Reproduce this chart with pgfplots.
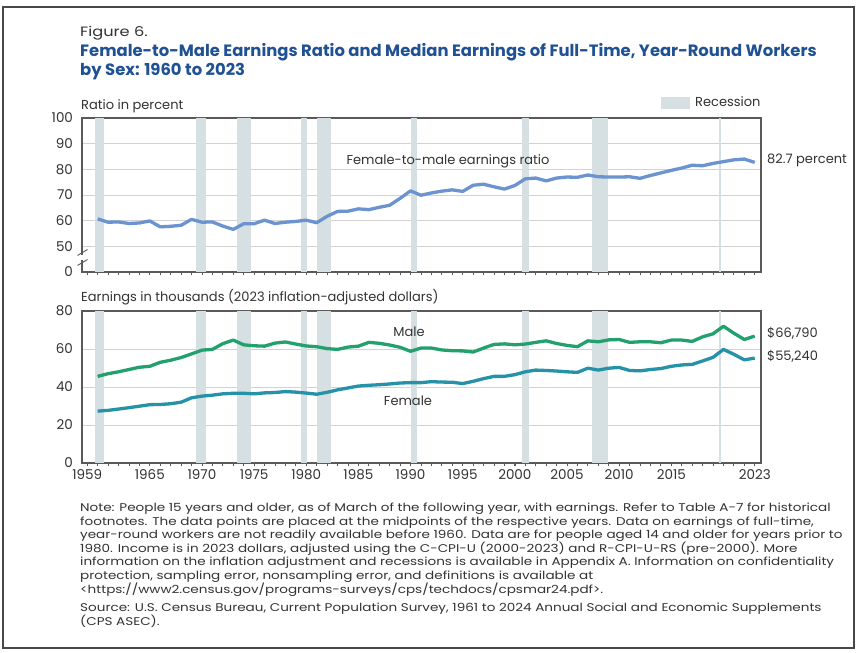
\documentclass[border=0pt]{standalone}
\usepackage{fontspec}
\setmainfont{Poppins}
\newfontfamily\axfont{Poppins}
\newfontfamily\notefont{Poppins}[FakeStretch=1.21]
\newfontfamily\figfont{Poppins}[FakeStretch=1.2]
\usepackage{pgfplots}
\pgfplotsset{compat=1.18}
\definecolor{ratioblue}{HTML}{6A93CF}
\definecolor{malegreen}{HTML}{22A06E}
\definecolor{femteal}{HTML}{2592A8}
\definecolor{recess}{HTML}{D6E0E2}
\definecolor{titleblue}{HTML}{1F5193}
\definecolor{txtgray}{HTML}{333333}
\definecolor{gridgray}{HTML}{D2D2D2}
\definecolor{axgray}{HTML}{5A5A5A}

\pgfplotstableread{
year ratio
1960 60.7
1961 59.4
1962 59.5
1963 58.9
1964 59.1
1965 59.9
1966 57.6
1967 57.8
1968 58.2
1969 60.5
1970 59.4
1971 59.5
1972 57.9
1973 56.6
1974 58.8
1975 58.8
1976 60.2
1977 58.9
1978 59.4
1979 59.7
1980 60.2
1981 59.2
1982 61.7
1983 63.6
1984 63.7
1985 64.6
1986 64.3
1987 65.2
1988 66.0
1989 68.7
1990 71.6
1991 69.9
1992 70.8
1993 71.5
1994 72.0
1995 71.4
1996 73.8
1997 74.2
1998 73.2
1999 72.3
2000 73.7
2001 76.3
2002 76.6
2003 75.5
2004 76.6
2005 77.0
2006 76.9
2007 77.8
2008 77.1
2009 77.0
2010 77.0
2011 77.1
2012 76.5
2013 77.6
2014 78.6
2015 79.6
2016 80.5
2017 81.6
2018 81.4
2019 82.3
2020 83.0
2021 83.7
2022 84.0
2023 82.7
}\ratiotable

\pgfplotstableread{
year male female
1960 45.6 27.3
1961 47.0 27.7
1962 48.0 28.4
1963 49.2 29.1
1964 50.4 29.9
1965 50.9 30.7
1966 53.0 30.8
1967 54.1 31.2
1968 55.5 32.0
1969 57.4 34.3
1970 59.4 35.2
1971 59.8 35.7
1972 62.8 36.4
1973 64.7 36.7
1974 62.2 36.7
1975 61.7 36.4
1976 61.5 36.9
1977 63.1 37.1
1978 63.7 37.6
1979 62.6 37.3
1980 61.6 36.8
1981 61.2 36.2
1982 60.2 37.2
1983 59.8 38.5
1984 61.0 39.5
1985 61.5 40.5
1986 63.5 40.9
1987 63.0 41.2
1988 62.1 41.6
1989 60.9 42.1
1990 58.8 42.3
1991 60.5 42.3
1992 60.5 42.8
1993 59.5 42.6
1994 59.1 42.5
1995 59.0 41.8
1996 58.4 43.0
1997 60.5 44.4
1998 62.4 45.6
1999 62.7 45.6
2000 62.2 46.5
2001 62.6 48.0
2002 63.5 48.9
2003 64.3 48.7
2004 62.9 48.4
2005 61.9 48.0
2006 61.2 47.7
2007 64.3 49.9
2008 63.8 48.9
2009 64.8 49.9
2010 65.0 50.3
2011 63.5 48.7
2012 63.8 48.5
2013 63.8 49.2
2014 63.3 49.7
2015 64.7 50.9
2016 64.7 51.6
2017 64.0 51.9
2018 66.4 53.7
2019 68.0 55.6
2020 72.0 59.8
2021 68.3 57.2
2022 65.0 54.3
2023 66.8 55.2
}\earntable

\pgfplotsset{
  myaxis/.style={
    scale only axis, width=679pt,
    xmin=1958.5, xmax=2023.6,
    clip=false,
    axis line style={axgray, line width=1.1pt},
    ymajorgrids, grid style={gridgray, line width=0.8pt},
    tick align=outside,
    xtick pos=left, ytick pos=left,
    major tick length=3.5pt, minor tick length=3.5pt,
    xtick style={axgray, line width=0.7pt},
    minor x tick style={axgray, line width=0.7pt},
    ytick style={draw=none},
    ticklabel style={font=\axfont\fontsize{13.5}{15}\selectfont, text=txtgray},
    /pgf/number format/assume math mode=true,
  },
  recband/.style={fill=recess, draw=none, forget plot},
}
\newcommand{\bands}[2]{%
  \addplot[recband] coordinates {(1959.75,#1)(1959.75,#2)(1960.58,#2)(1960.58,#1)};
  \addplot[recband] coordinates {(1969.45,#1)(1969.45,#2)(1970.35,#2)(1970.35,#1)};
  \addplot[recband] coordinates {(1973.33,#1)(1973.33,#2)(1974.67,#2)(1974.67,#1)};
  \addplot[recband] coordinates {(1979.5,#1)(1979.5,#2)(1980.05,#2)(1980.05,#1)};
  \addplot[recband] coordinates {(1981.0,#1)(1981.0,#2)(1982.35,#2)(1982.35,#1)};
  \addplot[recband] coordinates {(1990.0,#1)(1990.0,#2)(1990.65,#2)(1990.65,#1)};
  \addplot[recband] coordinates {(2000.67,#1)(2000.67,#2)(2001.33,#2)(2001.33,#1)};
  \addplot[recband] coordinates {(2007.42,#1)(2007.42,#2)(2008.92,#2)(2008.92,#1)};
  \addplot[recband] coordinates {(2019.6,#1)(2019.6,#2)(2019.75,#2)(2019.75,#1)};
}

\begin{document}
\begin{tikzpicture}[x=1pt,y=1pt]
\fill[white] (0,0) rectangle (862,653);
\draw[axgray!80!black, line width=1.3pt] (3,5) rectangle (854,646);

% Top axis: ratio
\begin{axis}[myaxis, at={(82pt,381pt)}, anchor=south west, height=154pt,
  ymin=40, ymax=100, ytick={40,50,60,70,80,90,100},
  yticklabels={0,50,60,70,80,90,100},
  xtick={1959,...,2023}, xticklabels={},
  yticklabel style={xshift=-2pt}]
  \bands{40}{100}
  \addplot[ratioblue, line width=3.3pt, line join=round] table[x=year, y=ratio] {\ratiotable};
\end{axis}
% axis break marks
\fill[white] (79,392.5) rectangle (85,398);
\draw[axgray, line width=0.9pt] (77.5,387.5) -- (87.5,393.5);
\draw[axgray, line width=0.9pt] (77.5,397.5) -- (87.5,403.5);

% Bottom axis: earnings
\begin{axis}[myaxis, at={(82pt,190pt)}, anchor=south west, height=152pt,
  ymin=0, ymax=80, ytick={0,20,40,60,80},
  xtick={1959,1965,1970,1975,1980,1985,1990,1995,2000,2005,2010,2015,2023},
  xticklabels={1959,1965,1970,1975,1980,1985,1990,1995,2000,2005,2010,2015,2023},
  minor xtick={1959,...,2023},
  yticklabel style={xshift=-2pt}]
  \bands{0}{80}
  \addplot[malegreen, line width=3.3pt, line join=round] table[x=year, y=male] {\earntable};
  \addplot[femteal, line width=3.3pt, line join=round] table[x=year, y=female] {\earntable};
\end{axis}

% Texts in panels
\begin{scope}[every node/.style={text=txtgray, inner sep=0pt, font=\axfont\fontsize{13}{15}\selectfont}]
\node[anchor=west] at (81,547) {Ratio in percent};
\fill[recess] (661,544) rectangle (690,556);
\node[anchor=west] at (695,551) {Recession};
\node at (448,492) {Female-to-male earnings ratio};
\node[anchor=west] at (767,493) {82.7 percent};
\node[anchor=west] at (81,356) {Earnings in thousands (2023 inflation-adjusted dollars)};
\node at (409,321) {Male};
\node at (408,252) {Female};
\node[anchor=west] at (767,320) {\$66,790};
\node[anchor=west] at (767,297) {\$55,240};
\end{scope}

% Title
\node[anchor=west, inner sep=0pt, text=txtgray, font=\figfont\fontsize{13.5}{15}\selectfont] at (80,620) {Figure 6.};
\node[anchor=west, inner sep=0pt, text=titleblue, font=\bfseries\fontsize{16.4}{19}\selectfont] at (80,601) {Female-to-Male Earnings Ratio and Median Earnings of Full-Time, Year-Round Workers};
\node[anchor=west, inner sep=0pt, text=titleblue, font=\bfseries\fontsize{16.4}{19}\selectfont] at (80,581) {by Sex: 1960 to 2023};

% Notes
\node[anchor=north west, inner sep=0pt, align=left, text=txtgray, font=\notefont\fontsize{11.2}{13.5}\selectfont] at (80,150) {%
Note: People 15 years and older, as of March of the following year, with earnings. Refer to Table A-7 for historical\\
footnotes. The data points are placed at the midpoints of the respective years. Data on earnings of full-time,\\
year-round workers are not readily available before 1960. Data are for people aged 14 and older for years prior to\\
1980. Income is in 2023 dollars, adjusted using the C-CPI-U (2000-2023) and R-CPI-U-RS (pre-2000). More\\
information on the inflation adjustment and recessions is available in Appendix A. Information on confidentiality\\
protection, sampling error, nonsampling error, and definitions is available at\\
<https://www2.census.gov/programs-surveys/cps/techdocs/cpsmar24.pdf>.};
\node[anchor=north west, inner sep=0pt, align=left, text=txtgray, font=\notefont\fontsize{11.2}{13.5}\selectfont] at (80,50) {%
Source: U.S. Census Bureau, Current Population Survey, 1961 to 2024 Annual Social and Economic Supplements\\
(CPS ASEC).};
\end{tikzpicture}
\end{document}
